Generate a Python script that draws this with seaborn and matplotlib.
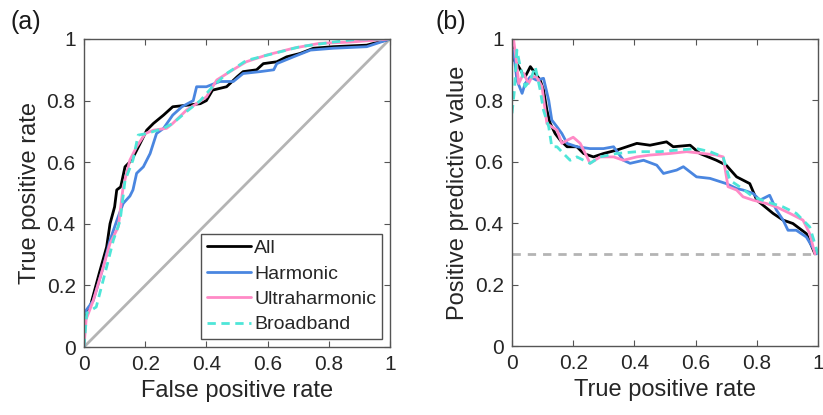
import pandas as pd
import matplotlib.pyplot as plt
import seaborn as sns

# ROC curves, panel (a): false positive rate / true positive rate
all_fpr = [0, 0, 0.02, 0.05, 0.074, 0.085, 0.10, 0.107, 0.12, 0.134, 0.156, 0.183, 0.205, 0.227, 0.26,
           0.29, 0.336, 0.38, 0.40, 0.42, 0.466, 0.50, 0.52, 0.564, 0.586, 0.63, 0.662, 0.706, 0.75,
           0.815, 0.924, 1.0]
all_tpr = [0, 0.09, 0.13, 0.24, 0.325, 0.40, 0.455, 0.51, 0.52, 0.585, 0.607, 0.66, 0.704, 0.726, 0.753,
           0.78, 0.785, 0.79, 0.80, 0.834, 0.845, 0.877, 0.894, 0.90, 0.92, 0.926, 0.942, 0.953, 0.97,
           0.975, 0.98, 1.0]
harm_fpr = [0, 0, 0.03, 0.063, 0.085, 0.107, 0.128, 0.15, 0.16, 0.172, 0.194, 0.216, 0.237, 0.26, 0.29,
            0.32, 0.357, 0.368, 0.40, 0.444, 0.488, 0.52, 0.575, 0.62, 0.63, 0.684, 0.74, 0.815, 0.924, 1.0]
harm_tpr = [0, 0.11, 0.15, 0.26, 0.347, 0.41, 0.466, 0.49, 0.51, 0.564, 0.585, 0.628, 0.693, 0.71, 0.753,
            0.78, 0.80, 0.845, 0.845, 0.862, 0.862, 0.888, 0.894, 0.90, 0.92, 0.942, 0.964, 0.97, 0.975, 1.0]
ultra_fpr = [0, 0.007, 0.03, 0.063, 0.085, 0.112, 0.128, 0.15, 0.172, 0.2, 0.227, 0.27, 0.29, 0.336,
             0.368, 0.40, 0.434, 0.477, 0.53, 0.597, 0.684, 0.77, 0.87, 1.0]
ultra_tpr = [0, 0.09, 0.15, 0.26, 0.336, 0.39, 0.52, 0.607, 0.65, 0.693, 0.704, 0.71, 0.726, 0.77,
             0.79, 0.812, 0.867, 0.894, 0.926, 0.948, 0.97, 0.986, 0.99, 1.0]
broad_fpr = [0, 0.009, 0.04, 0.074, 0.096, 0.118, 0.134, 0.16, 0.177, 0.205, 0.26, 0.29, 0.336, 0.38,
             0.42, 0.466, 0.53, 0.62, 0.706, 0.815, 0.90, 1.0]
broad_tpr = [0, 0.11, 0.13, 0.26, 0.347, 0.41, 0.54, 0.607, 0.688, 0.693, 0.71, 0.726, 0.765, 0.80,
             0.845, 0.888, 0.93, 0.953, 0.975, 0.99, 1.0, 1.0]

# precision-recall curves, panel (b): true positive rate / positive predictive value
all_rec = [0, 0.008, 0.016, 0.033, 0.043, 0.06, 0.076, 0.092, 0.103, 0.114, 0.125, 0.141, 0.158, 0.18,
           0.212, 0.234, 0.266, 0.299, 0.342, 0.375, 0.408, 0.451, 0.505, 0.527, 0.582, 0.614, 0.668,
           0.70, 0.734, 0.777, 0.80, 0.82, 0.853, 0.886, 0.918, 0.962, 0.99]
all_ppv = [1.0, 0.93, 0.92, 0.89, 0.877, 0.91, 0.888, 0.866, 0.834, 0.768, 0.725, 0.692, 0.67, 0.649,
           0.649, 0.627, 0.616, 0.627, 0.638, 0.649, 0.66, 0.654, 0.665, 0.649, 0.654, 0.627, 0.605,
           0.589, 0.551, 0.529, 0.475, 0.459, 0.432, 0.41, 0.399, 0.366, 0.30]
harm_rec = [0.005, 0.016, 0.033, 0.043, 0.06, 0.08, 0.103, 0.12, 0.13, 0.147, 0.163, 0.18, 0.212, 0.255,
            0.299, 0.332, 0.364, 0.386, 0.43, 0.473, 0.495, 0.538, 0.56, 0.603, 0.647, 0.70, 0.734,
            0.755, 0.788, 0.81, 0.842, 0.864, 0.886, 0.902, 0.929, 0.962, 0.995]
harm_ppv = [0.964, 0.866, 0.823, 0.855, 0.877, 0.866, 0.872, 0.80, 0.736, 0.714, 0.692, 0.66, 0.649, 0.643,
            0.643, 0.649, 0.605, 0.595, 0.605, 0.589, 0.562, 0.573, 0.584, 0.551, 0.546, 0.529, 0.513,
            0.508, 0.497, 0.475, 0.491, 0.443, 0.41, 0.377, 0.377, 0.355, 0.30]
ultra_rec = [0.005, 0.014, 0.022, 0.038, 0.054, 0.065, 0.08, 0.098, 0.114, 0.13, 0.147, 0.163, 0.18, 0.20,
             0.223, 0.245, 0.255, 0.288, 0.332, 0.364, 0.408, 0.451, 0.516, 0.571, 0.625, 0.668, 0.69,
             0.706, 0.734, 0.755, 0.788, 0.832, 0.864, 0.908, 0.951, 0.973, 0.99]
ultra_ppv = [1.0, 0.93, 0.855, 0.888, 0.855, 0.877, 0.877, 0.845, 0.725, 0.714, 0.703, 0.66, 0.67, 0.68,
             0.66, 0.616, 0.595, 0.616, 0.616, 0.605, 0.616, 0.622, 0.627, 0.633, 0.627, 0.622, 0.616,
             0.519, 0.508, 0.486, 0.475, 0.464, 0.453, 0.432, 0.41, 0.366, 0.30]
broad_rec = [0, 0.008, 0.016, 0.027, 0.043, 0.06, 0.076, 0.092, 0.103, 0.12, 0.13, 0.147, 0.168, 0.19,
             0.212, 0.234, 0.255, 0.288, 0.342, 0.408, 0.484, 0.538, 0.603, 0.647, 0.69, 0.712, 0.745,
             0.788, 0.832, 0.886, 0.929, 0.973, 1.0]
broad_ppv = [0.758, 0.834, 0.964, 0.91, 0.845, 0.866, 0.91, 0.834, 0.768, 0.714, 0.649, 0.649, 0.627, 0.605,
             0.616, 0.605, 0.595, 0.616, 0.627, 0.633, 0.633, 0.638, 0.643, 0.633, 0.616, 0.54, 0.518,
             0.486, 0.47, 0.453, 0.432, 0.388, 0.30]

prevalence = 0.30
series_names = ["All", "Harmonic", "Ultraharmonic", "Broadband"]
colors = {"All": "#000000", "Harmonic": "#4a86e0", "Ultraharmonic": "#ff8ac6", "Broadband": "#4ee6d8"}
dashes = {"All": "", "Harmonic": "", "Ultraharmonic": "", "Broadband": (3, 2)}

roc = {"All": (all_fpr, all_tpr), "Harmonic": (harm_fpr, harm_tpr),
       "Ultraharmonic": (ultra_fpr, ultra_tpr), "Broadband": (broad_fpr, broad_tpr)}
pr = {"All": (all_rec, all_ppv), "Harmonic": (harm_rec, harm_ppv),
      "Ultraharmonic": (ultra_rec, ultra_ppv), "Broadband": (broad_rec, broad_ppv)}

sns.set_theme(style="ticks")
plt.rcParams['font.family'] = ['Liberation Sans', 'DejaVu Sans']
plt.rcParams.update({
    "xtick.direction": "in", "ytick.direction": "in",
    "xtick.top": True, "ytick.right": True,
    "xtick.major.size": 4, "ytick.major.size": 4,
    "xtick.major.width": 0.8, "ytick.major.width": 0.8,
    "axes.edgecolor": "#555555", "axes.linewidth": 1.0,
    "xtick.color": "#555555", "ytick.color": "#555555",
    "xtick.labelcolor": "#262626", "ytick.labelcolor": "#262626",
    "xtick.labelsize": 15, "ytick.labelsize": 15,
    "axes.labelsize": 17, "axes.labelcolor": "#262626",
})

fig = plt.figure(figsize=(8.23, 4.15), dpi=100)
ax1 = fig.add_axes([84 / 823, 1 - 347 / 415, 306 / 823, 308 / 415])
ax2 = fig.add_axes([512 / 823, 1 - 346 / 415, 306 / 823, 307 / 415])

# (a) ROC
ax1.plot([0, 1], [0, 1], color="#b4b4b4", lw=2)
for name in series_names:
    df = pd.DataFrame({"x": roc[name][0], "y": roc[name][1]})
    sns.lineplot(data=df, x="x", y="y", ax=ax1, sort=False, estimator=None,
                 color=colors[name], lw=2, dashes=dashes[name], label=name)

# (b) PR
for name in series_names:
    df = pd.DataFrame({"x": pr[name][0], "y": pr[name][1]})
    sns.lineplot(data=df, x="x", y="y", ax=ax2, sort=False, estimator=None,
                 color=colors[name], lw=2, dashes=dashes[name], legend=False)
ax2.axhline(prevalence, color="#b4b4b4", lw=2, ls=(0, (3, 2.5)))

ticks = [0, 0.2, 0.4, 0.6, 0.8, 1]
ticklabels = ["0", "0.2", "0.4", "0.6", "0.8", "1"]
for ax in (ax1, ax2):
    ax.set_xlim(0, 1)
    ax.set_ylim(0, 1)
    ax.set_xticks(ticks)
    ax.set_xticklabels(ticklabels)
    ax.set_yticks(ticks)
    ax.set_yticklabels(ticklabels)
    ax.tick_params(pad=6)

ax1.set_xlabel("False positive rate")
ax1.set_ylabel("True positive rate")
ax2.set_xlabel("True positive rate")
ax2.set_ylabel("Positive predictive value")

leg = ax1.legend(loc="lower right", fontsize=14, frameon=True, fancybox=False, handlelength=2.3,
                 handletextpad=0.15, borderpad=0.3, labelspacing=0.4, borderaxespad=0.4)
leg.get_frame().set_edgecolor("#262626")
leg.get_frame().set_linewidth(1.0)

fig.text(10 / 823, 1 - 22 / 415, "(a)", fontsize=18, va="center", ha="left", color="#1a1a1a")
fig.text(436 / 823, 1 - 22 / 415, "(b)", fontsize=18, va="center", ha="left", color="#1a1a1a")

fig.savefig("out.png", dpi=100)
